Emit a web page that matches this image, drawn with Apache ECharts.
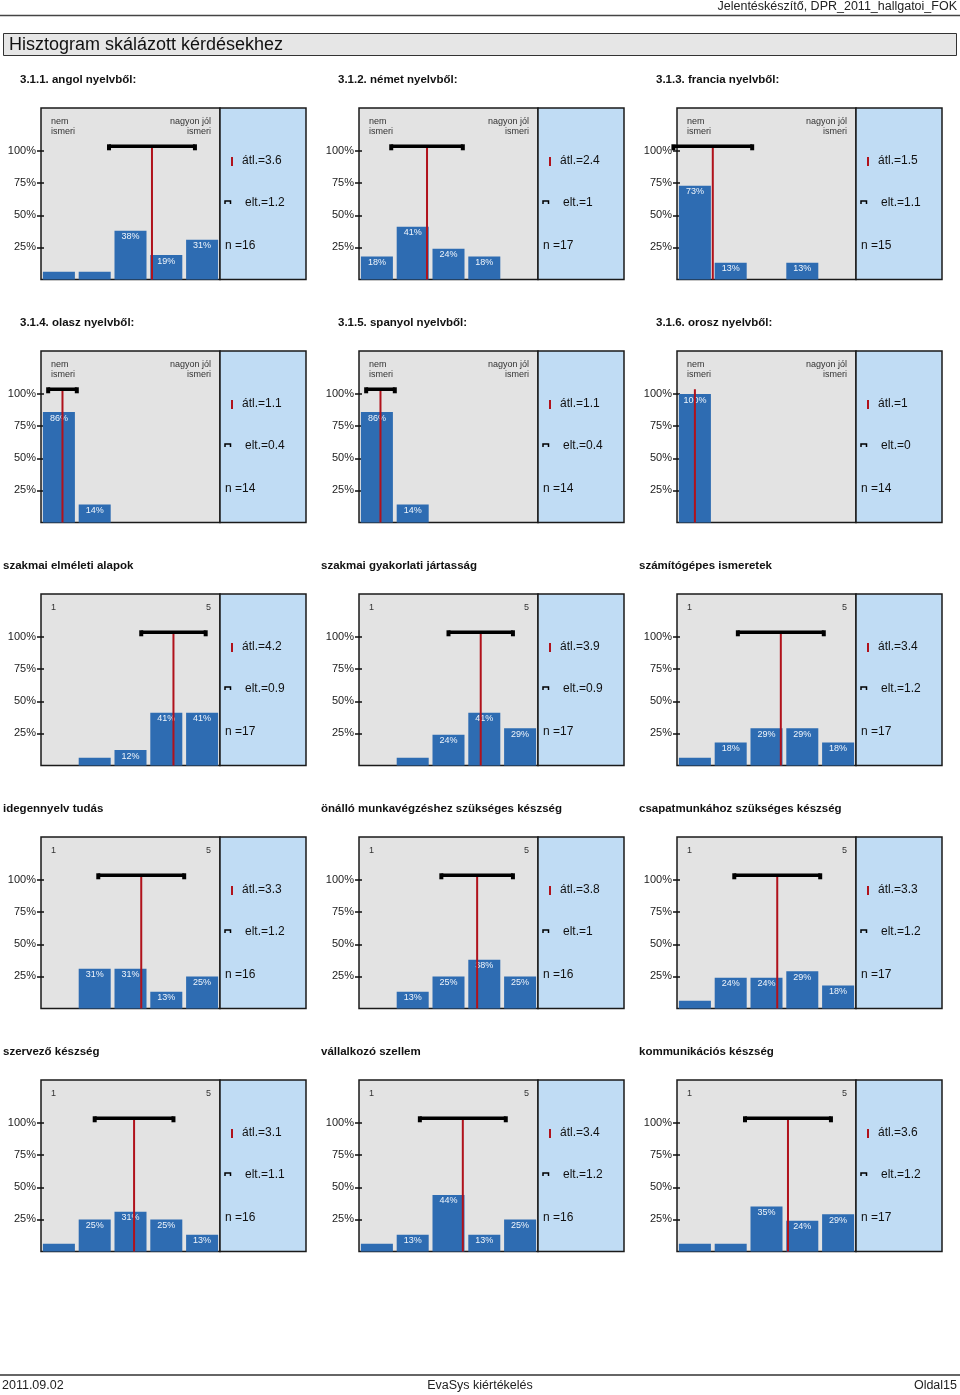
<!DOCTYPE html>
<html>
<head>
<meta charset="utf-8">
<script src="https://cdn.jsdelivr.net/npm/echarts@6/dist/echarts.min.js"></script>
<style>
html,body{margin:0;padding:0;background:#fff;}
#chart{width:960px;height:1395px;}
</style>
</head>
<body>
<div id="chart"></div>
<script>
// ---------- data ----------
const headerText = 'Jelentéskészítő, DPR_2011_hallgatoi_FOK';
const pageTitle = 'Hisztogram skálázott kérdésekhez';
const footerLeft = '2011.09.02';
const footerCenter = 'EvaSys kiértékelés';
const footerRight = 'Oldal15';

const categories = ['1', '2', '3', '4', '5'];
const yTicks = [25, 50, 75, 100];

const titles = [
  '3.1.1. angol nyelvből:', '3.1.2. német nyelvből:', '3.1.3. francia nyelvből:',
  '3.1.4. olasz nyelvből:', '3.1.5. spanyol nyelvből:', '3.1.6. orosz nyelvből:',
  'szakmai elméleti alapok', 'szakmai gyakorlati jártasság', 'számítógépes ismeretek',
  'idegennyelv tudás', 'önálló munkavégzéshez szükséges készség', 'csapatmunkához szükséges készség',
  'szervező készség', 'vállalkozó szellem', 'kommunikációs készség'
];

const values = [
  [6, 6, 38, 19, 31],
  [18, 41, 24, 18, 0],
  [73, 13, 0, 13, 0],
  [86, 14, 0, 0, 0],
  [86, 14, 0, 0, 0],
  [100, 0, 0, 0, 0],
  [0, 6, 12, 41, 41],
  [0, 6, 24, 41, 29],
  [6, 18, 29, 29, 18],
  [0, 31, 31, 13, 25],
  [0, 13, 25, 38, 25],
  [6, 24, 24, 29, 18],
  [6, 25, 31, 25, 13],
  [6, 13, 44, 13, 25],
  [6, 6, 35, 24, 29]
];

const means = [3.6, 2.4, 1.5, 1.1, 1.1, 1, 4.2, 3.9, 3.4, 3.3, 3.8, 3.3, 3.1, 3.4, 3.6];
const sds   = [1.2, 1, 1.1, 0.4, 0.4, 0, 0.9, 0.9, 1.2, 1.2, 1, 1.2, 1.1, 1.2, 1.2];
const ns    = [16, 17, 15, 14, 14, 14, 17, 17, 17, 16, 16, 17, 16, 16, 17];

const leftLabelsText = ['nem\nismeri', '1'];
const rightLabelsText = ['nagyon jól\nismeri', '5'];
const labelSet = [0, 0, 0, 0, 0, 0, 1, 1, 1, 1, 1, 1, 1, 1, 1];

// ---------- layout ----------
const FONT = '"Liberation Sans", Arial, Helvetica, sans-serif';
const colX = [41, 359, 677];
const rowY = [108, 351, 594, 837, 1080];
const GW = 179, BW = 86, GH = 171.5;
const YMAX = 133.5;
const BRACKET_Y = 103.7;

const grids = [], xAxes = [], yAxes = [], series = [], graphics = [];

// header
graphics.push({type: 'text', x: 957, y: 7, z: 100, style: {text: headerText, font: '12.5px ' + FONT, fill: '#222', textAlign: 'right', textVerticalAlign: 'middle'}});
graphics.push({type: 'line', z: 100, shape: {x1: 0, y1: 15.5, x2: 960, y2: 15.5}, style: {stroke: '#444', lineWidth: 1.5}});
graphics.push({type: 'rect', z: 90, shape: {x: 3.5, y: 33.5, width: 953, height: 22}, style: {fill: '#e6e6e6', stroke: '#333', lineWidth: 1}});
graphics.push({type: 'text', x: 9, y: 45, z: 100, style: {text: pageTitle, font: '18px ' + FONT, fill: '#111', textAlign: 'left', textVerticalAlign: 'middle'}});
// footer
graphics.push({type: 'line', z: 100, shape: {x1: 0, y1: 1375, x2: 960, y2: 1375}, style: {stroke: '#666', lineWidth: 2}});
graphics.push({type: 'text', x: 2, y: 1386, z: 100, style: {text: footerLeft, font: '12.5px ' + FONT, fill: '#222', textAlign: 'left', textVerticalAlign: 'middle'}});
graphics.push({type: 'text', x: 480, y: 1386, z: 100, style: {text: footerCenter, font: '12.5px ' + FONT, fill: '#222', textAlign: 'center', textVerticalAlign: 'middle'}});
graphics.push({type: 'text', x: 957, y: 1386, z: 100, style: {text: footerRight, font: '12.5px ' + FONT, fill: '#222', textAlign: 'right', textVerticalAlign: 'middle'}});

titles.forEach((t, i) => {
  const r = Math.floor(i / 3), c = i % 3;
  const gx = colX[c], gy = rowY[r];
  grids.push({left: gx, top: gy, width: GW, height: GH, show: true, backgroundColor: '#e3e3e3', borderColor: '#1a1a1a', borderWidth: 1.5, containLabel: false});
  xAxes.push({gridIndex: i, type: 'category', data: categories, show: false});
  xAxes.push({gridIndex: i, type: 'value', min: 0.5, max: 5.5, show: false});
  yAxes.push({
    gridIndex: i, type: 'value', min: 0, max: YMAX, offset: -3,
    axisLine: {show: false}, splitLine: {show: false},
    axisTick: {show: true, length: 7, customValues: yTicks, lineStyle: {color: '#111', width: 1.5}},
    axisLabel: {customValues: yTicks, formatter: '{value}%', margin: 8, fontSize: 11, color: '#222', fontFamily: FONT}
  });
  series.push({
    type: 'bar', xAxisIndex: 2 * i, yAxisIndex: i, data: values[i], barWidth: 32,
    itemStyle: {color: '#2e6cb2'}, silent: true,
    label: {show: true, position: 'insideTop', distance: 1.5, fontSize: 9, fontFamily: FONT, color: '#eef4fb',
      formatter: p => (p.value >= 10 ? p.value + '%' : '')}
  });
  series.push({
    type: 'line', xAxisIndex: 2 * i + 1, yAxisIndex: i, z: 3, silent: true,
    data: [[means[i], 0], [means[i], BRACKET_Y]], symbol: 'none',
    lineStyle: {color: '#b0121b', width: 2}
  });
  if (sds[i] > 0) {
    series.push({
      type: 'line', xAxisIndex: 2 * i + 1, yAxisIndex: i, z: 4, silent: true, clip: false,
      data: [[means[i] - sds[i], BRACKET_Y], [means[i] + sds[i], BRACKET_Y]],
      symbol: 'rect', symbolSize: [4, 6], symbolOffset: [0, 1],
      itemStyle: {color: '#000'}, lineStyle: {color: '#000', width: 3.5}
    });
  }
  // section title
  graphics.push({type: 'text', x: r < 2 ? gx - 21 : gx - 38, y: gy - 28, z: 100,
    style: {text: t, font: 'bold 11.5px ' + FONT, fill: '#111', textAlign: 'left', textVerticalAlign: 'middle'}});
  // scale end labels
  const ls = labelSet[i];
  graphics.push({type: 'text', x: gx + 10, y: ls === 0 ? gy + 9 : gy + 9, z: 100,
    style: {text: leftLabelsText[ls], font: '9px ' + FONT, fill: '#333', textAlign: 'left', textVerticalAlign: 'top', lineHeight: 9.5}});
  graphics.push({type: 'text', x: gx + GW - 9, y: gy + 9, z: 100,
    style: {text: rightLabelsText[ls], font: '9px ' + FONT, fill: '#333', textAlign: 'right', textVerticalAlign: 'top', lineHeight: 9.5}});
  // blue stats box
  const bx = gx + GW;
  graphics.push({type: 'rect', z: 50, shape: {x: bx, y: gy, width: BW, height: GH}, style: {fill: '#c0dcf4', stroke: '#1a1a1a', lineWidth: 1.5}});
  graphics.push({type: 'rect', z: 100, shape: {x: bx + 11, y: gy + 49, width: 2, height: 9}, style: {fill: '#b0121b'}});
  graphics.push({type: 'text', x: bx + 22, y: gy + 52.5, z: 100,
    style: {text: 'átl.=' + means[i], font: '12px ' + FONT, fill: '#111', textAlign: 'left', textVerticalAlign: 'middle'}});
  graphics.push({type: 'polyline', z: 100, shape: {points: [[bx + 5, gy + 96], [bx + 5, gy + 93], [bx + 10.5, gy + 93], [bx + 10.5, gy + 96]]}, style: {stroke: '#000', lineWidth: 1.5, fill: null}});
  graphics.push({type: 'text', x: bx + 25, y: gy + 94.5, z: 100,
    style: {text: 'elt.=' + sds[i], font: '12px ' + FONT, fill: '#111', textAlign: 'left', textVerticalAlign: 'middle'}});
  graphics.push({type: 'text', x: bx + 5, y: gy + 138, z: 100,
    style: {text: 'n =' + ns[i], font: '12px ' + FONT, fill: '#111', textAlign: 'left', textVerticalAlign: 'middle'}});
});

const chart = echarts.init(document.getElementById('chart'), null, {renderer: 'canvas'});
chart.setOption({
  animation: false,
  backgroundColor: '#ffffff',
  textStyle: {fontFamily: FONT},
  grid: grids,
  xAxis: xAxes,
  yAxis: yAxes,
  series: series,
  graphic: {elements: graphics}
});
</script>
</body>
</html>
